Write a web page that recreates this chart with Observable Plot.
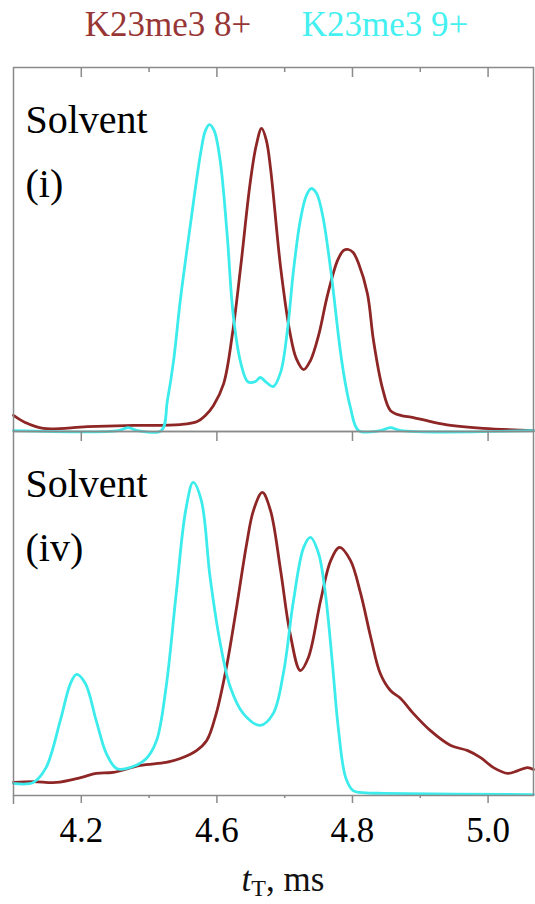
<!DOCTYPE html>
<html><head><meta charset="utf-8">
<script src="https://cdn.jsdelivr.net/npm/d3@7"></script>
<script src="https://cdn.jsdelivr.net/npm/@observablehq/plot@0.6"></script>
<style>
body{margin:0;background:#fff;width:535px;height:904px;overflow:hidden;font-family:"Liberation Serif","Times New Roman",serif;}
#legend{position:relative;height:60px;}
#legend span{position:absolute;top:3px;line-height:44px;font-size:35px;transform:translateX(-50%);white-space:nowrap;}
#chart svg{display:block;}
#xlabel{position:relative;height:44px;}
#xlabel div{position:absolute;left:283px;top:0;transform:translateX(-50%);font-size:35px;line-height:40px;white-space:nowrap;color:#111;}
#xlabel sub{font-size:24px;vertical-align:-5px;line-height:0;}
</style></head><body>
<div id="legend"></div><div id="chart"></div><div id="xlabel"></div>
<script>
const seriesNames = ["K23me3 8+", "K23me3 9+"];
const seriesColors = ["#8e2626", "#3cecec"];
const legendColors = ["#983636", "#45f0f0"];
const panelNames = ["(i)", "(iv)"];
const panelCondition = ["Solvent", "Solvent"];
const majorTicks = [4.2, 4.4, 4.6, 4.8];
const tickLabels = ["4.2", "4.6", "4.8", "5.0"];
const minorTicks = [4.3, 4.5, 4.7];
const edgeTicks = [4.1];

// panel (i), K23me3 8+
const red_i = [[4.100,5.3],[4.117,3.0],[4.144,1.0],[4.209,1.6],[4.277,2.0],[4.346,2.3],[4.371,3.3],[4.383,5.3],[4.395,8.6],[4.410,15.8],[4.423,32.3],[4.435,54.1],[4.449,81.8],[4.458,94.3],[4.466,99.9],[4.473,95.9],[4.479,87.0],[4.494,54.1],[4.508,32.3],[4.517,24.1],[4.528,20.4],[4.538,23.4],[4.550,31.7],[4.563,44.8],[4.578,56.4],[4.587,59.7],[4.594,60.0],[4.601,59.0],[4.609,55.4],[4.622,45.5],[4.631,30.0],[4.644,14.5],[4.656,6.9],[4.671,5.3],[4.690,4.6],[4.720,3.0],[4.745,2.0],[4.793,1.0],[4.867,0.3]];
// panel (i), K23me3 9+
const cyan_i = [[4.100,0.3],[4.255,0.3],[4.269,1.3],[4.283,0.3],[4.318,0.3],[4.327,10.2],[4.336,23.1],[4.346,43.2],[4.361,68.3],[4.376,91.7],[4.383,99.2],[4.389,101.2],[4.396,99.2],[4.405,89.0],[4.415,65.3],[4.424,38.6],[4.435,22.8],[4.446,16.3],[4.457,16.5],[4.464,17.8],[4.473,16.2],[4.483,14.8],[4.494,19.5],[4.504,33.3],[4.513,53.1],[4.523,69.6],[4.532,77.8],[4.539,80.1],[4.547,78.5],[4.556,71.2],[4.568,53.1],[4.582,26.7],[4.590,15.2],[4.597,7.9],[4.609,0.3],[4.641,0.3],[4.656,1.3],[4.671,0.3],[4.867,0.3]];
// panel (iv), K23me3 8+
const red_iv = [[4.100,4.3],[4.129,4.6],[4.163,4.3],[4.199,5.9],[4.222,7.3],[4.247,7.6],[4.287,9.9],[4.325,10.9],[4.346,12.2],[4.370,14.8],[4.385,18.1],[4.399,27.0],[4.414,42.2],[4.429,62.0],[4.444,83.1],[4.454,94.0],[4.467,99.9],[4.479,94.0],[4.494,74.2],[4.508,53.4],[4.523,41.2],[4.535,45.5],[4.553,64.3],[4.568,77.5],[4.581,81.8],[4.597,77.5],[4.612,66.6],[4.627,52.1],[4.641,40.2],[4.656,34.6],[4.671,32.0],[4.690,27.0],[4.715,21.4],[4.745,16.5],[4.770,14.8],[4.789,12.5],[4.808,9.2],[4.829,7.3],[4.844,8.2],[4.858,9.2],[4.867,8.6]];
// panel (iv), K23me3 9+
const cyan_iv = [[4.100,4.0],[4.129,4.3],[4.148,9.2],[4.169,24.7],[4.184,36.9],[4.193,39.9],[4.206,36.9],[4.222,24.7],[4.237,13.8],[4.252,8.9],[4.272,9.2],[4.296,12.2],[4.311,18.1],[4.325,35.6],[4.340,66.6],[4.354,94.0],[4.365,103.2],[4.377,97.3],[4.390,71.9],[4.405,50.1],[4.420,35.6],[4.439,27.0],[4.464,23.1],[4.483,27.0],[4.498,40.2],[4.513,64.3],[4.528,81.8],[4.538,85.1],[4.550,79.8],[4.560,66.6],[4.570,44.5],[4.579,22.4],[4.590,5.9],[4.601,1.6],[4.620,0.9],[4.646,0.7],[4.867,0.3]];

const rows = [];
function add(arr, series, panel) { for (const [x, y] of arr) rows.push({x, y, series, panel}); }
add(red_i, seriesNames[0], panelNames[0]);
add(red_iv, seriesNames[0], panelNames[1]);
add(cyan_i, seriesNames[1], panelNames[0]);
add(cyan_iv, seriesNames[1], panelNames[1]);
const labelsData = panelNames.map((p, i) => ({panel: p, cond: panelCondition[i]}));

// legend
const legend = document.getElementById("legend");
const legendCenters = [168, 385];
seriesNames.forEach((s, i) => {
  const sp = document.createElement("span");
  sp.textContent = s;
  sp.style.color = legendColors[i];
  sp.style.left = legendCenters[i] + "px";
  legend.appendChild(sp);
});

const serif = "'Liberation Serif', 'Times New Roman', serif";
const gray = "#8a8a8a";
const blank = () => "";
const plot = Plot.plot({
  width: 535, height: 800,
  marginTop: 7, marginBottom: 65, marginLeft: 13, marginRight: 2,
  x: {domain: [4.1, 4.867], axis: null},
  y: {domain: [0, 120], axis: null},
  fy: {domain: panelNames, padding: 0, axis: null},
  color: {domain: seriesNames, range: seriesColors},
  style: {fontFamily: serif, background: "white", overflow: "visible", color: "black"},
  marks: [
    Plot.line(rows, {x: "x", y: "y", fy: "panel", z: "series", stroke: "series", strokeWidth: 2.8, curve: "catmull-rom"}),
    Plot.frame({stroke: gray, strokeWidth: 1.5}),
    Plot.text(labelsData, {fy: "panel", text: "cond", frameAnchor: "top-left", textAnchor: "start", lineAnchor: "bottom", dx: 12, dy: 65, fontSize: 40, fill: "black", fontFamily: serif}),
    Plot.text(labelsData, {fy: "panel", text: "panel", frameAnchor: "top-left", textAnchor: "start", lineAnchor: "bottom", dx: 12, dy: 129, fontSize: 40, fill: "black", fontFamily: serif}),
    Plot.axisX(majorTicks, {anchor: "top", tickSize: -9, tickFormat: blank, label: null, stroke: gray, strokeWidth: 1.5}),
    Plot.axisX(minorTicks, {anchor: "top", tickSize: -4, tickFormat: blank, label: null, stroke: gray, strokeWidth: 1.5}),
    Plot.axisX(majorTicks, {anchor: "bottom", facetAnchor: "top", tickSize: 10, tickFormat: blank, label: null, stroke: gray, strokeWidth: 1.5}),
    Plot.axisX(minorTicks, {anchor: "bottom", tickSize: 3, tickFormat: blank, label: null, stroke: gray, strokeWidth: 1.5}),
    Plot.axisX(edgeTicks, {anchor: "bottom", tickSize: 9, tickFormat: blank, label: null, stroke: gray, strokeWidth: 1.5}),
    Plot.axisX(majorTicks, {anchor: "bottom", tickSize: 8, tickPadding: 38, lineAnchor: "bottom", fontSize: 35, fontFamily: serif, label: null, stroke: gray, strokeWidth: 1.5, fill: "black",
      tickFormat: d => tickLabels[majorTicks.indexOf(d)]})
  ]
});
document.getElementById("chart").appendChild(plot);

const xl = document.createElement("div");
xl.innerHTML = "<i>t</i><sub>T</sub>, ms";
document.getElementById("xlabel").appendChild(xl);
</script>
</body></html>
